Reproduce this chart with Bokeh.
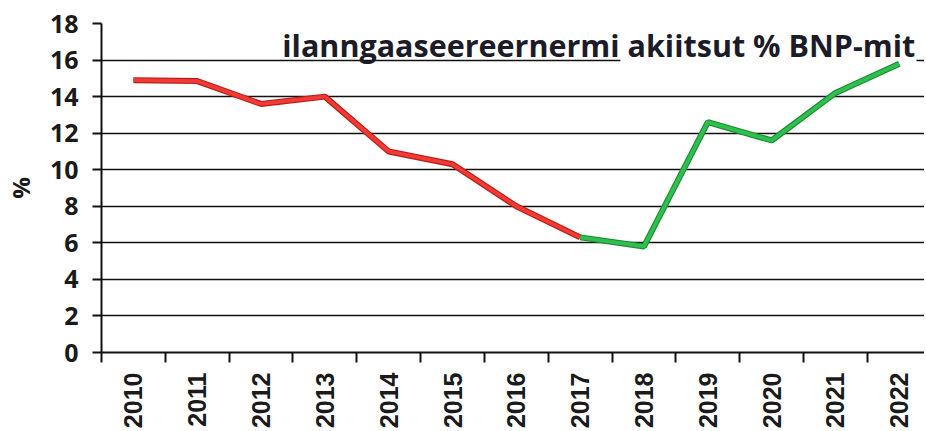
import math
from bokeh.plotting import figure
from bokeh.models import FixedTicker, Range1d, Label, BoxAnnotation
from bokeh.embed import file_html
from bokeh.resources import INLINE

years = ["2010", "2011", "2012", "2013", "2014", "2015", "2016",
         "2017", "2018", "2019", "2020", "2021", "2022"]
values = [14.9, 14.85, 13.6, 14.0, 11.0, 10.3, 8.0, 6.3, 5.8, 12.6, 11.6, 14.2, 15.8]
split_year = "2017"
y_ticks = [0, 2, 4, 6, 8, 10, 12, 14, 16, 18]
title_text = "ilanngaaseereernermi akiitsut % BNP-mit"
y_label = "%"

idx = list(range(len(years)))
k = years.index(split_year)

p = figure(frame_width=823, frame_height=329, output_backend="svg", toolbar_location=None,
           x_range=Range1d(-0.5, 12.395), y_range=Range1d(0, 18),
           min_border_left=101, min_border_right=0, min_border_top=23, min_border_bottom=77)
p.outline_line_color = None
p.background_fill_color = "white"
p.border_fill_color = "white"

# grids
p.xgrid.grid_line_color = None
p.ygrid.grid_line_color = "#111111"
p.ygrid.grid_line_width = 1.6

# y axis
p.yaxis.ticker = FixedTicker(ticks=y_ticks)
p.yaxis.axis_line_color = "#111111"
p.yaxis.axis_line_width = 2
p.yaxis.major_tick_out = 9
p.yaxis.major_tick_in = 0
p.yaxis.major_tick_line_color = "#111111"
p.yaxis.major_tick_line_width = 2
p.yaxis.minor_tick_out = 0
p.yaxis.minor_tick_in = 0
p.yaxis.major_label_standoff = 14
p.yaxis.major_label_text_font = "Open Sans"
p.yaxis.major_label_text_font_style = "bold"
p.yaxis.major_label_text_font_size = "25px"
p.yaxis.major_label_text_color = "#1a1a1a"
p.yaxis.axis_label = y_label
p.yaxis.axis_label_text_font = "Open Sans"
p.yaxis.axis_label_text_font_style = "bold"
p.yaxis.axis_label_text_font_size = "24px"
p.yaxis.axis_label_text_color = "#1a1a1a"
p.yaxis.axis_label_standoff = 10

# x axis
p.xaxis.ticker = FixedTicker(ticks=idx, minor_ticks=[i - 0.5 for i in idx])
p.xaxis.major_label_overrides = {i: y for i, y in zip(idx, years)}
p.xaxis.axis_line_color = "#111111"
p.xaxis.axis_line_width = 2
p.xaxis.major_tick_out = 0
p.xaxis.major_tick_in = 0
p.xaxis.minor_tick_out = 10
p.xaxis.minor_tick_in = 0
p.xaxis.minor_tick_line_color = "#111111"
p.xaxis.minor_tick_line_width = 2
p.xaxis.major_label_orientation = math.pi / 2
p.xaxis.major_label_standoff = 10
p.xaxis.major_label_text_font = "Liberation Sans"
p.xaxis.major_label_text_font_style = "bold"
p.xaxis.major_label_text_font_size = "25px"
p.xaxis.major_label_text_color = "#1a1a1a"

# white box behind part of the title (hides the 16 gridline there)
p.add_layout(BoxAnnotation(left=7.63, right=12.27, bottom=15.9, top=17.6,
                           fill_color="white", fill_alpha=1.0, line_color=None,
                           level="underlay"))

# lines
xr, yr = idx[:k + 1], values[:k + 1]
xg, yg = idx[k:], values[k:]
p.line(xr, yr, line_width=6, line_color="#b81c1c")
p.line(xr, yr, line_width=3.8, line_color="#f03a32")
p.line(xg, yg, line_width=6, line_color="#1b8a35")
p.line(xg, yg, line_width=3.8, line_color="#2fbf4c")

p.add_layout(Label(x=12.25, y=16.8, text=title_text, text_align="right",
                   text_baseline="alphabetic", text_font="Open Sans",
                   text_font_style="bold", text_font_size="30.5px",
                   text_color="#1c1c28"))

open("out.html", "w").write(file_html(p, INLINE))
